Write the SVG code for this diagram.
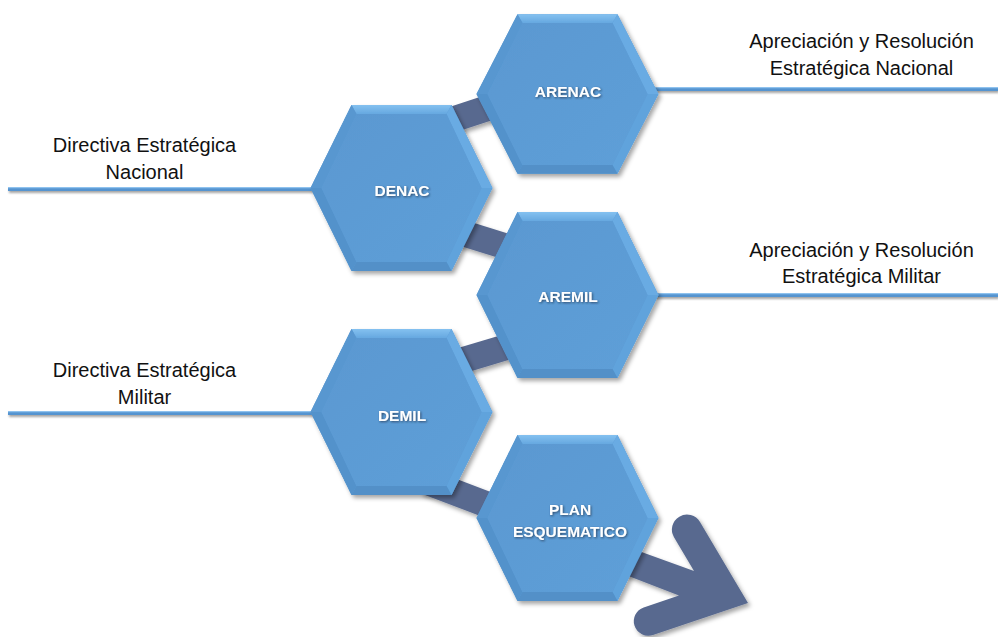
<svg xmlns="http://www.w3.org/2000/svg" xmlns:xlink="http://www.w3.org/1999/xlink" width="998" height="637" viewBox="0 0 998 637">
  <defs>
    <style>
      .bar { stroke: #58698f; stroke-width: 26; fill: none; }
      .rail { stroke: #5594d0; stroke-width: 4; fill: none; }
      .rail-hi { stroke: #8fc2ee; stroke-width: 1.2; fill: none; }
      .hex-label { font-family: "Liberation Sans", Arial, sans-serif; font-weight: bold; font-size: 15.5px; fill: #ffffff; text-anchor: middle; }
      .side-label { font-family: "Liberation Sans", Arial, sans-serif; font-size: 20px; fill: #111111; text-anchor: middle; }
    </style>
    <filter id="shadow" x="-20%" y="-20%" width="140%" height="140%">
      <feDropShadow dx="2.5" dy="3" stdDeviation="2" flood-color="#000" flood-opacity="0.35"/>
    </filter>
    <filter id="railShadow" x="-5%" y="-200%" width="110%" height="500%">
      <feDropShadow dx="1" dy="2" stdDeviation="1.2" flood-color="#000" flood-opacity="0.35"/>
    </filter>
    <filter id="textShadow" x="-20%" y="-40%" width="140%" height="180%">
      <feDropShadow dx="1" dy="1" stdDeviation="0.8" flood-color="#1a2a40" flood-opacity="0.7"/>
    </filter>
    <linearGradient id="faceGrad" x1="0" y1="0" x2="1" y2="1">
      <stop offset="0" stop-color="#5a98d1"/>
      <stop offset="1" stop-color="#5e9fd8"/>
    </linearGradient>
    <linearGradient id="topGrad" x1="0" y1="0" x2="0" y2="1">
      <stop offset="0" stop-color="#84c1f0"/>
      <stop offset="1" stop-color="#66a8e0"/>
    </linearGradient>
    <!-- bevelled hexagon, centred on the origin -->
    <g id="hex">
      <polygon points="-91,0 -50,-83 50,-83 91,0 50,83 -50,83" fill="#5b9bd5"/>
      <polygon points="-50,-83 50,-83 45,-74 -45,-74" fill="url(#topGrad)"/>
      <polygon points="50,-83 91,0 80,0 45,-74" fill="#69abe3"/>
      <polygon points="91,0 50,83 45,74 80,0" fill="#60a3dc"/>
      <polygon points="50,83 -50,83 -45,74 45,74" fill="#5290c8"/>
      <polygon points="-50,83 -91,0 -80,0 -45,74" fill="#5392cb"/>
      <polygon points="-91,0 -50,-83 -45,-74 -80,0" fill="#5897d0"/>
      <polygon points="-80,0 -45,-74 45,-74 80,0 45,74 -45,74" fill="url(#faceGrad)"/>
    </g>
  </defs>

  <rect width="998" height="637" fill="#ffffff"/>

  <!-- connectors -->
  <g id="connectors">
    <g filter="url(#railShadow)">
      <line class="rail" x1="8" y1="189" x2="320" y2="189"/>
      <line class="rail" x1="8" y1="413" x2="320" y2="413"/>
      <line class="rail" x1="650" y1="89" x2="998" y2="89"/>
      <line class="rail" x1="650" y1="295" x2="998" y2="295"/>
    </g>
    <line class="rail-hi" x1="8" y1="187.6" x2="320" y2="187.6"/>
    <line class="rail-hi" x1="8" y1="411.6" x2="320" y2="411.6"/>
    <line class="rail-hi" x1="650" y1="87.6" x2="998" y2="87.6"/>
    <line class="rail-hi" x1="650" y1="293.6" x2="998" y2="293.6"/>
    <g filter="url(#shadow)">
      <line class="bar" x1="430" y1="127" x2="515" y2="99"/>
      <line class="bar" x1="440" y1="226" x2="530" y2="254"/>
      <line class="bar" x1="440" y1="367" x2="530" y2="340"/>
      <line class="bar" x1="425" y1="481" x2="530" y2="521"/>
      <!-- outgoing arrow with rounded chevron head -->
      <path d="M600,537 L694,571 L674,537.3 A15,15 0 0 1 700,522 L748,603 L653,635 A14.5,14.5 0 0 1 643.7,607.4 L679,595.6 L600,565 Z" fill="#58698f"/>
    </g>
  </g>

  <!-- nodes -->
  <g id="node-arenac" filter="url(#shadow)">
    <use xlink:href="#hex" transform="translate(567.5,94) scale(1,0.96)"/>
    <text class="hex-label" x="568" y="97" filter="url(#textShadow)">ARENAC</text>
  </g>
  <g id="node-denac" filter="url(#shadow)">
    <use xlink:href="#hex" transform="translate(401.5,188)"/>
    <text class="hex-label" x="402" y="196" filter="url(#textShadow)">DENAC</text>
  </g>
  <g id="node-aremil" filter="url(#shadow)">
    <use xlink:href="#hex" transform="translate(567.5,295)"/>
    <text class="hex-label" x="568" y="302" filter="url(#textShadow)">AREMIL</text>
  </g>
  <g id="node-demil" filter="url(#shadow)">
    <use xlink:href="#hex" transform="translate(401.5,412)"/>
    <text class="hex-label" x="402" y="421" filter="url(#textShadow)">DEMIL</text>
  </g>
  <g id="node-plan" filter="url(#shadow)">
    <use xlink:href="#hex" transform="translate(567.5,518)"/>
    <text class="hex-label" x="570" y="515" filter="url(#textShadow)">PLAN</text>
    <text class="hex-label" x="570" y="537" filter="url(#textShadow)">ESQUEMATICO</text>
  </g>

  <!-- side captions -->
  <g id="label-denac">
    <text class="side-label" x="144.5" y="152">Directiva Estratégica</text>
    <text class="side-label" x="144.5" y="179">Nacional</text>
  </g>
  <g id="label-demil">
    <text class="side-label" x="144.5" y="377">Directiva Estratégica</text>
    <text class="side-label" x="144.5" y="404">Militar</text>
  </g>
  <g id="label-arenac">
    <text class="side-label" x="861.5" y="48">Apreciación y Resolución</text>
    <text class="side-label" x="861.5" y="75">Estratégica Nacional</text>
  </g>
  <g id="label-aremil">
    <text class="side-label" x="861.5" y="257">Apreciación y Resolución</text>
    <text class="side-label" x="861.5" y="283">Estratégica Militar</text>
  </g>
</svg>
